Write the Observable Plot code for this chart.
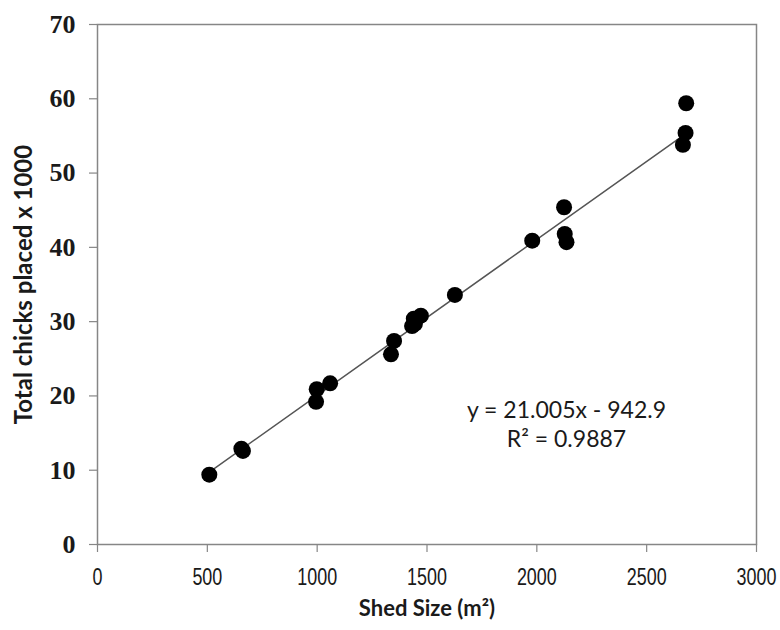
<!DOCTYPE html>
<html>
<head>
<meta charset="utf-8">
<script src="https://cdn.jsdelivr.net/npm/d3@7"></script>
<script src="https://cdn.jsdelivr.net/npm/@observablehq/plot@0.6"></script>
<style>
  html, body { margin: 0; padding: 0; background: #fff; }
  #chart svg { display: block; }
  g[aria-label="y-axis tick label"] text { font-family: "Liberation Serif", serif; font-weight: bold; font-size: 26px; fill: #1a1a1a; }
  g[aria-label="x-axis tick label"] text { font-family: "Liberation Sans", sans-serif; font-size: 23px; fill: #1a1a1a; }
</style>
</head>
<body>
<div id="chart"></div>
<script>
// Data
const shedSize = [509, 655, 662, 995, 998, 1059, 1336, 1350, 1432, 1440, 1445, 1472, 1627, 1979, 2124, 2127, 2135, 2665, 2677, 2680];
const chicksPlaced = [9.4, 12.9, 12.6, 19.2, 20.9, 21.7, 25.6, 27.4, 29.4, 30.4, 29.7, 30.8, 33.6, 40.9, 45.4, 41.8, 40.7, 53.8, 55.4, 59.4];

// Axis ticks
const xTicks = [0, 500, 1000, 1500, 2000, 2500, 3000];
const yTicks = [0, 10, 20, 30, 40, 50, 60, 70];

// Trend line (from the equation printed on the chart: chicks = 21.005x - 942.9)
const slope = 21.005;
const intercept = -942.9;
const eqLines = ["y = 21.005x - 942.9", "R\u00b2 = 0.9887"];
const eqX = [2135, 2135];
const eqY = [18.0, 14.1];

const xLabel = "Shed Size (m\u00b2)";
const yLabel = "Total chicks placed x 1000";

const points = shedSize.map((x, i) => ({x, y: chicksPlaced[i]}));
const fit = d3.extent(shedSize).map(x => ({x, y: (slope * x + intercept) / 1000}));
const eq = eqLines.map((t, i) => ({t, x: eqX[i], y: eqY[i]}));

const chart = Plot.plot({
  width: 780,
  height: 630,
  marginLeft: 97,
  marginRight: 24,
  marginTop: 24,
  marginBottom: 86,
  style: {background: "#fff", color: "#1a1a1a", overflow: "visible"},
  x: {domain: [0, 3000]},
  y: {domain: [0, 70]},
  marks: [
    Plot.frame({stroke: "#868686", strokeWidth: 1.5}),
    Plot.axisX({ticks: xTicks, tickSize: 8, tickPadding: 16, tickFormat: d => String(d), stroke: "#868686", strokeWidth: 1.2, label: null}),
    Plot.axisY({ticks: yTicks, tickSize: 8, tickPadding: 14, tickFormat: d => String(d), stroke: "#868686", strokeWidth: 1.2, label: null}),
    Plot.line(fit, {x: "x", y: "y", stroke: "#555", strokeWidth: 1.5}),
    Plot.dot(points, {x: "x", y: "y", r: 8, fill: "#000", stroke: "none"}),
    Plot.text(eq, {x: "x", y: "y", text: "t", fontSize: 23, fontFamily: "Lato, sans-serif", fill: "#1a1a1a", textAnchor: "middle"}),
    Plot.text([xLabel], {frameAnchor: "bottom", dy: 64, text: d => d, fontSize: 22, fontWeight: "bold", fontFamily: "Lato, sans-serif", fill: "#1a1a1a", textAnchor: "middle", lineAnchor: "middle"}),
    Plot.text([yLabel], {frameAnchor: "left", dx: -73, rotate: -90, text: d => d, fontSize: 24, fontWeight: "bold", fontFamily: "Lato, sans-serif", fill: "#1a1a1a", textAnchor: "middle", lineAnchor: "middle"})
  ]
});
// Narrow the x tick labels horizontally (the reference uses a condensed face)
chart.querySelectorAll('g[aria-label="x-axis tick label"] text').forEach(t => {
  const tr = t.getAttribute("transform") || "";
  t.setAttribute("transform", tr + " scale(0.78,1)");
});
document.getElementById("chart").append(chart);
</script>
</body>
</html>
